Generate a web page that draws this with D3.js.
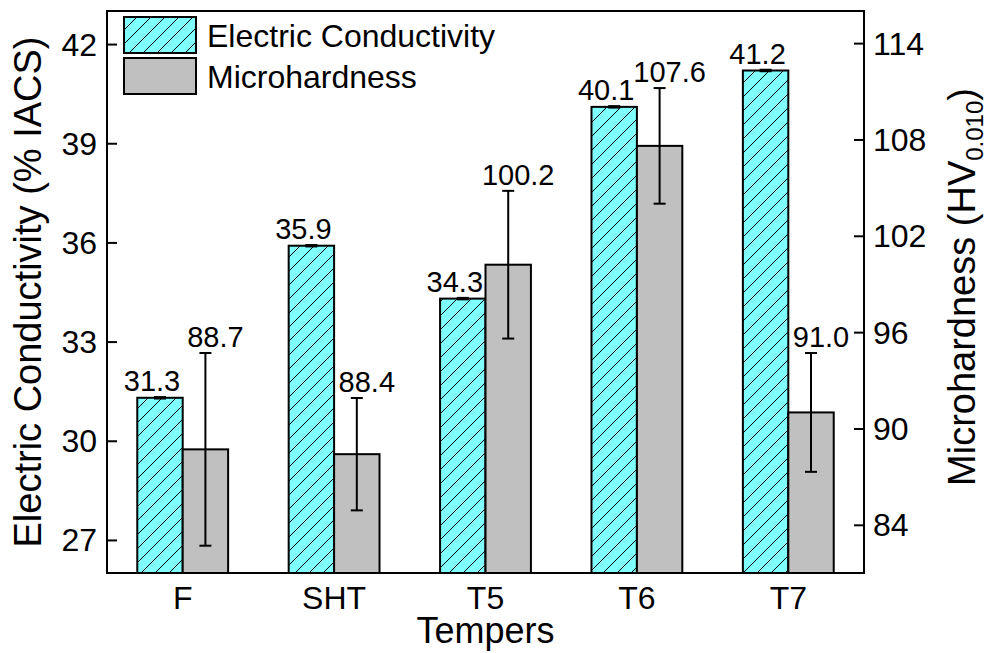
<!DOCTYPE html>
<html>
<head>
<meta charset="utf-8">
<script src="https://cdn.jsdelivr.net/npm/d3@7"></script>
<style>
  body { margin: 0; background: #fff; }
  text { font-family: Arial, "Liberation Sans", sans-serif; fill: #000; }
</style>
</head>
<body>
<div id="chart"></div>
<script>
// Data
const tempers = ["F", "SHT", "T5", "T6", "T7"];
const conductivity = [31.3, 35.9, 34.3, 40.1, 41.2];
const conductivityErr = [0.03, 0.03, 0.03, 0.03, 0.03];
const hardness = [88.7, 88.4, 100.2, 107.6, 91.0];
const hardnessErr = [6.0, 3.5, 4.6, 3.6, 3.7];
const leftTicks = [27, 30, 33, 36, 39, 42];
const rightTicks = [84, 90, 96, 102, 108, 114];

const width = 987;
const height = 653;
const plot = {left: 107, right: 864, top: 11, bottom: 573};

const svg = d3.select("#chart")
  .append("svg")
  .attr("width", width)
  .attr("height", height);

// hatch pattern for conductivity bars
const defs = svg.append("defs");
const pat = defs.append("pattern")
  .attr("id", "hatch")
  .attr("patternUnits", "userSpaceOnUse")
  .attr("width", 14)
  .attr("height", 14);
pat.append("rect").attr("width", 14).attr("height", 14).attr("fill", "#80ffff");
pat.append("path")
  .attr("d", "M0,14 L14,0 M-3,3 L3,-3 M11,17 L17,11")
  .attr("stroke", "#000")
  .attr("stroke-width", 1);

const x = d3.scaleBand()
  .domain(tempers)
  .range([plot.left, plot.right])
  .padding(0);

const yLeft = d3.scaleLinear().domain([26, 43]).range([plot.bottom, plot.top]);
const yRight = d3.scaleLinear().domain([81, 116]).range([plot.bottom, plot.top]);

const barW = x.bandwidth() * 0.3;
const center = c => x(c) + x.bandwidth() / 2;

const ecData = tempers.map((t, i) => ({t, v: conductivity[i], e: conductivityErr[i]}));
const hvData = tempers.map((t, i) => ({t, v: hardness[i], e: hardnessErr[i]}));

// Bars
svg.selectAll(".ec")
  .data(ecData)
  .join("rect")
  .attr("class", "ec")
  .attr("x", d => center(d.t) - barW)
  .attr("y", d => yLeft(d.v))
  .attr("width", barW)
  .attr("height", d => plot.bottom - yLeft(d.v))
  .attr("fill", "url(#hatch)")
  .attr("stroke", "#000")
  .attr("stroke-width", 2);

svg.selectAll(".hv")
  .data(hvData)
  .join("rect")
  .attr("class", "hv")
  .attr("x", d => center(d.t))
  .attr("y", d => yRight(d.v))
  .attr("width", barW)
  .attr("height", d => plot.bottom - yRight(d.v))
  .attr("fill", "#c0c0c0")
  .attr("stroke", "#000")
  .attr("stroke-width", 2);

// Error bars
function errorBars(data, y, cx, cap, sw) {
  const g = svg.append("g").attr("stroke", "#000").attr("stroke-width", sw);
  data.forEach(d => {
    const xc = cx(d);
    g.append("line").attr("x1", xc).attr("x2", xc)
      .attr("y1", y(d.v + d.e)).attr("y2", y(d.v - d.e));
    g.append("line").attr("x1", xc - cap).attr("x2", xc + cap)
      .attr("y1", y(d.v + d.e)).attr("y2", y(d.v + d.e));
    g.append("line").attr("x1", xc - cap).attr("x2", xc + cap)
      .attr("y1", y(d.v - d.e)).attr("y2", y(d.v - d.e));
  });
}
errorBars(ecData, yLeft, d => center(d.t) - barW / 2, 6, 1.5);
errorBars(hvData, yRight, d => center(d.t) + barW / 2, 6, 2);

// Value labels
svg.selectAll(".eclab")
  .data(ecData)
  .join("text")
  .attr("x", d => center(d.t) - barW / 2 - 8)
  .attr("y", d => yLeft(d.v + d.e) - 6)
  .attr("text-anchor", "middle")
  .style("font-size", "29px")
  .text(d => d.v.toFixed(1));

svg.selectAll(".hvlab")
  .data(hvData)
  .join("text")
  .attr("x", d => center(d.t) + barW / 2 + 10)
  .attr("y", d => yRight(d.v + d.e) - 6)
  .attr("text-anchor", "middle")
  .style("font-size", "29px")
  .text(d => d.v.toFixed(1));

// Axes (inward ticks)
const leftAxis = svg.append("g")
  .attr("transform", `translate(${plot.left},0)`)
  .call(d3.axisRight(yLeft).tickValues(leftTicks).tickSize(10).tickFormat(""));
const rightAxis = svg.append("g")
  .attr("transform", `translate(${plot.right},0)`)
  .call(d3.axisLeft(yRight).tickValues(rightTicks).tickSize(10).tickFormat(""));
[leftAxis, rightAxis].forEach(a => {
  a.select(".domain").remove();
  a.selectAll("line").attr("stroke", "#000").attr("stroke-width", 2);
});

svg.selectAll(".ltick")
  .data(leftTicks)
  .join("text")
  .attr("x", plot.left - 10)
  .attr("y", d => yLeft(d))
  .attr("dy", "0.36em")
  .attr("text-anchor", "end")
  .style("font-size", "32px")
  .text(d => d);

svg.selectAll(".rtick")
  .data(rightTicks)
  .join("text")
  .attr("x", plot.right + 9)
  .attr("y", d => yRight(d))
  .attr("dy", "0.36em")
  .attr("text-anchor", "start")
  .style("font-size", "32px")
  .text(d => d);

svg.selectAll(".xtick")
  .data(tempers)
  .join("text")
  .attr("x", d => center(d))
  .attr("y", 609)
  .attr("text-anchor", "middle")
  .style("font-size", "32px")
  .text(d => d);

// Frame
svg.append("rect")
  .attr("x", plot.left)
  .attr("y", plot.top)
  .attr("width", plot.right - plot.left)
  .attr("height", plot.bottom - plot.top)
  .attr("fill", "none")
  .attr("stroke", "#000")
  .attr("stroke-width", 2);

// Axis titles
svg.append("text")
  .attr("x", (plot.left + plot.right) / 2)
  .attr("y", 643)
  .attr("text-anchor", "middle")
  .style("font-size", "36px")
  .text("Tempers");

svg.append("text")
  .attr("transform", "translate(41,292) rotate(-90)")
  .attr("text-anchor", "middle")
  .style("font-size", "38px")
  .text("Electric Conductivity (% IACS)");

const rt = svg.append("text")
  .attr("transform", "translate(975,287) rotate(-90)")
  .attr("text-anchor", "middle")
  .style("font-size", "38px");
rt.append("tspan").text("Microhardness (HV");
rt.append("tspan").attr("dy", 8).style("font-size", "24px").text("0.010");
rt.append("tspan").attr("dy", -8).text(")");

// Legend
const legend = [
  {label: "Electric Conductivity", fill: "url(#hatch)", y: 17},
  {label: "Microhardness", fill: "#c0c0c0", y: 58}
];
legend.forEach(l => {
  svg.append("rect")
    .attr("x", 124).attr("y", l.y)
    .attr("width", 72).attr("height", 36)
    .attr("fill", l.fill)
    .attr("stroke", "#000")
    .attr("stroke-width", 2);
  svg.append("text")
    .attr("x", 207).attr("y", l.y + 18)
    .attr("dy", "0.36em")
    .style("font-size", "32px")
    .text(l.label);
});
</script>
</body>
</html>
